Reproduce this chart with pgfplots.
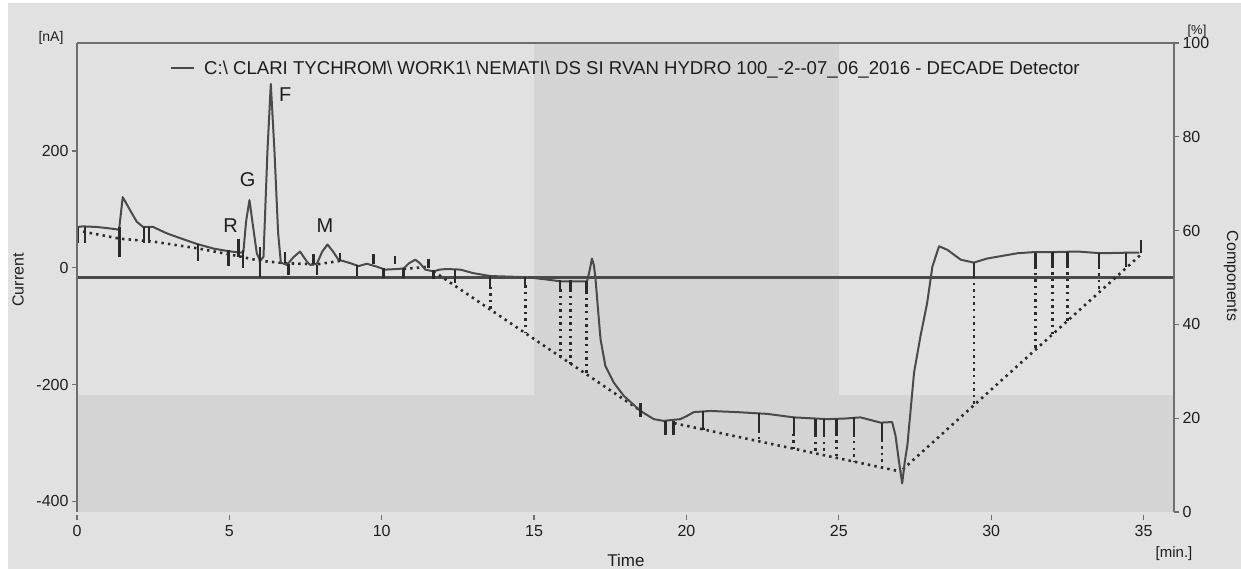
\documentclass[border=0pt]{standalone}
\usepackage{pgfplots}
\pgfplotsset{compat=1.18}
\usepackage{fontspec}
\setmainfont{Liberation Sans}
\definecolor{bgc}{HTML}{E1E1E1}
\definecolor{darkband}{HTML}{D4D4D4}
\definecolor{curvec}{HTML}{4A4A4A}
\definecolor{axc}{HTML}{6E6E6E}
\definecolor{tickc}{HTML}{2A2A2A}
\definecolor{txtc}{HTML}{1E1E1E}
\begin{document}
\begin{tikzpicture}
\fill[white] (0,0) rectangle (1241bp,569bp);
\fill[bgc] (8bp,0) rectangle (1241bp,566bp);
\useasboundingbox (0,0) rectangle (1241bp,569bp);
\begin{axis}[
  at={(77bp,57bp)}, anchor=south west,
  scale only axis, width=1097bp, height=469bp,
  xmin=0, xmax=36, ymin=-418, ymax=385,
  axis on top,
  separate axis lines,
  x axis line style={draw=none},
  y axis line style={draw=axc, line width=1.6bp},
  xtick={0,5,...,35}, ytick={-400,-200,0,200},
  xtick pos=bottom, ytick pos=left, tick align=outside,
  major tick length=5bp,
  xtick style={axc, line width=1.2bp, yshift=-3bp},
  ytick style={axc, line width=1.2bp},
  /pgf/number format/assume math mode=true,
  /pgf/number format/1000 sep={},
  xticklabel style={font=\fontsize{16bp}{18bp}\selectfont, text=txtc, yshift=-5bp},
  yticklabel style={font=\fontsize{16bp}{18bp}\selectfont, text=txtc},
  unbounded coords=jump,
  legend style={draw=none, fill=none, at={(0.0848,0.946)}, anchor=west,
    font=\fontsize{18.6bp}{20bp}\selectfont, text=txtc, inner sep=0pt},
  legend cell align=left,
  legend image code/.code={\draw[#1] (0bp,0bp) -- (23bp,0bp); \path (30bp,0bp);},
]
\fill[darkband] (axis cs:15,-418) rectangle (axis cs:25,385);
\fill[darkband] (axis cs:0,-418) rectangle (axis cs:36,-217);
\draw[axc, line width=1.6bp] (rel axis cs:0,1) -- (rel axis cs:1,1);
% 50 % reference line
\addplot[forget plot, color=tickc!85, line width=2.6bp] coordinates {(0,-16.5) (36,-16.5)};
% dotted baselines
\addplot[forget plot, color=tickc, line width=2.6bp, dash pattern=on 2.4bp off 4.2bp] coordinates {
(0.2,62) (1.4,50) (2.5,45) (4.0,33) (5.3,20) (6.01,12) (6.83,8) (7.87,6) (8.64,12) (8.64,nan)
(10.72,-2) (11.54,2) (11.54,nan)
(11.7,-6) (18.45,-243) (18.45,nan)
(19.6,-266) (27.05,-349) (27.05,nan)
(27.1,-345) (34.9,22)
};
% dotted drop lines
\addplot[forget plot, color=tickc, line width=2.6bp, dash pattern=on 2.4bp off 4.2bp] coordinates {
(12.41,-21) (12.41,-31) (12.41,nan)
(13.56,-32) (13.56,-71) (13.56,nan)
(14.71,-30) (14.71,-112) (14.71,nan)
(15.86,-37) (15.86,-152) (15.86,nan)
(16.19,-37) (16.19,-164) (16.19,nan)
(16.72,-40) (16.72,-182) (16.72,nan)
(20.55,-274) (20.55,-277) (20.55,nan)
(22.38,-278) (22.38,-297) (22.38,nan)
(23.52,-284) (23.52,-310) (23.52,nan)
(24.24,-286) (24.24,-318) (24.24,nan)
(24.51,-286) (24.51,-321) (24.51,nan)
(24.93,-284) (24.93,-325) (24.93,nan)
(25.5,-285) (25.5,-332) (25.5,nan)
(26.42,-294) (26.42,-342) (26.42,nan)
(29.43,-14) (29.43,-235) (29.43,nan)
(31.46,3) (31.46,-140) (31.46,nan)
(32.01,4) (32.01,-114) (32.01,nan)
(32.5,4) (32.5,-91) (32.5,nan)
(33.54,2) (33.54,-42) (33.54,nan)
(34.42,5) (34.42,0)
};
% chromatogram
\addplot[color=curvec, line width=2bp, line join=round] coordinates {
(0.0,70) (0.2,71) (0.65,70) (1.0,68) (1.3,66) (1.38,65) (1.50,121) (1.6,112) (1.74,99) (1.96,79)
(2.17,70) (2.5,70) (2.95,59) (3.38,51) (3.93,41) (4.48,33) (4.92,29) (5.35,26) (5.46,27)
(5.55,80) (5.66,116) (5.78,70) (5.9,25) (6.01,12) (6.12,19) (6.25,200) (6.36,315) (6.48,200)
(6.6,60) (6.69,9) (6.89,5) (7.1,18) (7.32,28) (7.54,11) (7.65,5) (7.87,7) (8.05,28) (8.22,40)
(8.4,28) (8.58,14) (8.97,8) (9.24,3) (9.51,7) (9.84,2) (10.11,-3) (10.5,-2) (10.72,-1) (10.9,8)
(11.1,14) (11.25,8) (11.43,-3) (11.7,-6) (11.9,-3) (12.14,-2) (12.58,-3) (13.0,-9) (13.56,-14)
(14.77,-16) (15.42,-20) (15.86,-23) (16.74,-23) (16.82,-5) (16.9,16) (16.96,5) (17.01,-15)
(17.09,-66) (17.18,-122) (17.34,-168) (17.61,-196) (17.94,-219) (18.49,-245) (18.93,-259)
(19.25,-262) (19.8,-259) (20.0,-254) (20.24,-247) (20.79,-245) (21.66,-247) (22.65,-250)
(23.52,-256) (24.62,-259) (25.2,-258) (25.71,-256) (26.15,-262) (26.37,-265) (26.75,-264)
(26.86,-287) (26.97,-330) (27.08,-369) (27.17,-330) (27.25,-304) (27.47,-179) (27.68,-117)
(27.9,-60) (28.07,2) (28.29,37) (28.56,31) (29.0,14) (29.43,9) (29.87,16) (30.31,20) (30.86,25)
(31.41,27) (32.07,27) (32.83,28) (33.6,25) (34.47,26) (34.86,26)
};
\addlegendentry{C:\textbackslash{} CLARI TYCHROM\textbackslash{} WORK1\textbackslash{} NEMATI\textbackslash{} DS SI RVAN HYDRO 100\_-2-{}-07\_06\_2016 - DECADE Detector}
% peak start/end markers
\addplot[forget plot, color=tickc, line width=2.4bp] coordinates {
(0.03,70) (0.03,42) (0.03,nan)
(0.26,70) (0.26,42) (0.26,nan)
(1.39,70) (1.39,19) (1.39,nan)
(2.2,70) (2.2,43) (2.2,nan)
(2.37,70) (2.37,43) (2.37,nan)
(3.98,40) (3.98,12) (3.98,nan)
(4.97,31) (4.97,3) (4.97,nan)
(5.3,50) (5.3,19) (5.3,nan)
(5.45,30) (5.45,0) (5.45,nan)
(6.01,35) (6.01,-16) (6.01,nan)
(6.83,27) (6.83,9) (6.83,nan)
(6.94,7) (6.94,-13) (6.94,nan)
(7.76,23) (7.76,7) (7.76,nan)
(7.87,5) (7.87,-13) (7.87,nan)
(8.64,26) (8.64,12) (8.64,nan)
(9.18,5) (9.18,-14) (9.18,nan)
(9.73,23) (9.73,7) (9.73,nan)
(10.06,0) (10.06,-18) (10.06,nan)
(10.44,20) (10.44,6) (10.44,nan)
(10.72,0) (10.72,-18) (10.72,nan)
(11.54,16) (11.54,0) (11.54,nan)
(11.7,-4) (11.7,-19) (11.7,nan)
(12.41,-3) (12.41,-21) (12.41,nan)
(13.56,-14) (13.56,-32) (13.56,nan)
(14.71,-16) (14.71,-30) (14.71,nan)
(15.86,-20) (15.86,-37) (15.86,nan)
(16.19,-20) (16.19,-37) (16.19,nan)
(16.72,-23) (16.72,-40) (16.72,nan)
(18.49,-232) (18.49,-255) (18.49,nan)
(19.31,-262) (19.31,-287) (19.31,nan)
(19.58,-262) (19.58,-287) (19.58,nan)
(20.55,-245) (20.55,-274) (20.55,nan)
(22.38,-249) (22.38,-278) (22.38,nan)
(23.52,-256) (23.52,-284) (23.52,nan)
(24.24,-259) (24.24,-286) (24.24,nan)
(24.51,-259) (24.51,-286) (24.51,nan)
(24.93,-259) (24.93,-284) (24.93,nan)
(25.5,-256) (25.5,-285) (25.5,nan)
(26.42,-265) (26.42,-294) (26.42,nan)
(29.43,9) (29.43,-14) (29.43,nan)
(31.46,26) (31.46,3) (31.46,nan)
(32.01,27) (32.01,4) (32.01,nan)
(32.5,27) (32.5,4) (32.5,nan)
(33.54,25) (33.54,2) (33.54,nan)
(34.42,26) (34.42,5) (34.42,nan)
(34.91,48) (34.91,26)
};
\node[font=\fontsize{20bp}{22bp}\selectfont, text=txtc] at (axis cs:6.83,297) {F};
\node[font=\fontsize{20bp}{22bp}\selectfont, text=txtc] at (axis cs:5.60,151) {G};
\node[font=\fontsize{20bp}{22bp}\selectfont, text=txtc] at (axis cs:5.04,72) {R};
\node[font=\fontsize{20bp}{22bp}\selectfont, text=txtc] at (axis cs:8.14,72) {M};
\end{axis}
\begin{axis}[
  at={(77bp,57bp)}, anchor=south west,
  scale only axis, width=1097bp, height=469bp,
  xmin=0, xmax=36, ymin=0, ymax=100,
  axis x line=none, axis y line*=right,
  axis line style={-, draw=axc, line width=1.6bp},
  ytick={0,20,...,100}, tick align=outside, major tick length=5bp,
  ytick style={axc, line width=1.2bp},
  /pgf/number format/assume math mode=true,
  yticklabel style={font=\fontsize{16bp}{18bp}\selectfont, text=txtc},
]
\addplot[draw=none, forget plot] coordinates {(0,0) (36,100)};
\end{axis}
\node[font=\fontsize{16bp}{18bp}\selectfont, text=txtc, rotate=90] at (18bp,289bp) {Current};
\node[font=\fontsize{16bp}{18bp}\selectfont, text=txtc, rotate=-90] at (1231bp,293bp) {Components};
\node[font=\fontsize{17bp}{19bp}\selectfont, text=txtc] at (626bp,9bp) {Time};
\node[font=\fontsize{15bp}{17bp}\selectfont, text=txtc] at (1174bp,15bp) {[min.]};
\node[font=\fontsize{14bp}{16bp}\selectfont, text=txtc] at (51bp,531bp) {[nA]};
\node[font=\fontsize{13bp}{15bp}\selectfont, text=txtc] at (1197bp,538bp) {[\%]};
\end{tikzpicture}
\end{document}
